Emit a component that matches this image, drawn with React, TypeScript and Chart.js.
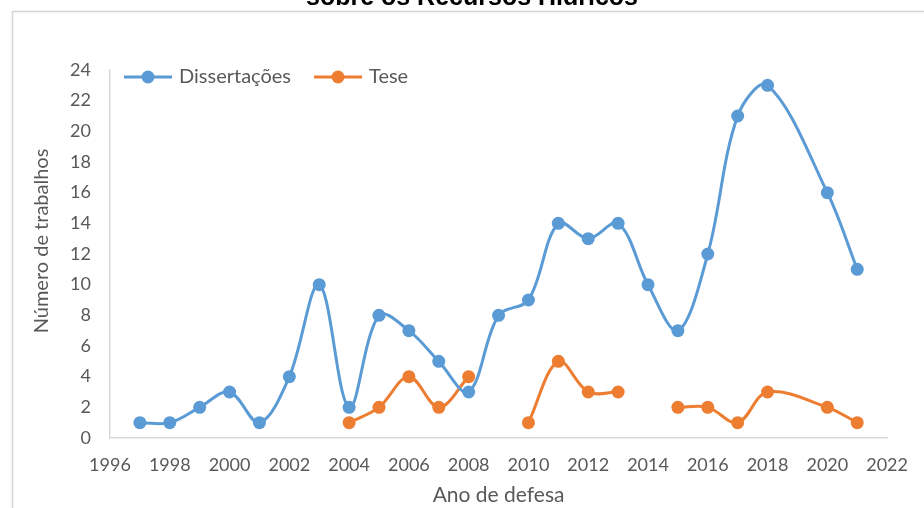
import { useEffect, useRef } from "react";
import { Chart, registerables } from "chart.js";

Chart.register(...registerables);

// Defence years and number of works per year
const dissYears = [1997, 1998, 1999, 2000, 2001, 2002, 2003, 2004, 2005, 2006, 2007, 2008, 2009, 2010, 2011, 2012, 2013, 2014, 2015, 2016, 2017, 2018, 2020, 2021];
const dissCounts = [1, 1, 2, 3, 1, 4, 10, 2, 8, 7, 5, 3, 8, 9, 14, 13, 14, 10, 7, 12, 21, 23, 16, 11];

// null marks a year without theses: the line is broken there
const teseYears = [2004, 2005, 2006, 2007, 2008, 2009, 2010, 2011, 2012, 2013, 2014, 2015, 2016, 2017, 2018, 2020, 2021];
const teseCounts: (number | null)[] = [1, 2, 4, 2, 4, null, 1, 5, 3, 3, null, 2, 2, 1, 3, 2, 1];

const seriesNames = ["Dissertações", "Tese"];
const seriesColors = ["#5b9bd5", "#ed7d31"];

const xMin = 1996;
const xMax = 2022;
const xStep = 2;
const yMin = 0;
const yMax = 24;
const yStep = 2;

const captionText = "sobre os Recursos Hídricos";
const yTitleText = "Número de trabalhos";
const xTitleText = "Ano de defesa";

const TEXT_GREY = "#595959";
const AXIS_GREY = "#d9d9d9";
const FONT = "Lato";

const toPoints = (xs: number[], ys: (number | null)[]) =>
  xs.map((x, i) => ({ x, y: ys[i] }));

// Frame, caption, rotated axis title and the line+marker legend
const decorations = {
  id: "decorations",
  beforeDraw(chart: any) {
    const ctx = chart.ctx as CanvasRenderingContext2D;
    ctx.save();
    ctx.fillStyle = "#ffffff";
    ctx.fillRect(0, 0, chart.width, chart.height);
    ctx.strokeStyle = "#d4d4d4";
    ctx.lineWidth = 1.5;
    ctx.beginPath();
    ctx.moveTo(12.5, chart.height + 2);
    ctx.lineTo(12.5, 11.5);
    ctx.lineTo(chart.width + 2, 11.5);
    ctx.stroke();
    ctx.restore();
  },
  afterDraw(chart: any) {
    const ctx = chart.ctx as CanvasRenderingContext2D;
    const area = chart.chartArea;

    // caption line above the frame
    ctx.save();
    ctx.font = `bold 25px "Liberation Sans", Arial, sans-serif`;
    ctx.fillStyle = "#000000";
    ctx.textAlign = "center";
    ctx.textBaseline = "alphabetic";
    ctx.fillText(captionText, 472, 5);
    ctx.restore();

    // vertical axis title
    ctx.save();
    ctx.font = `20px ${FONT}`;
    ctx.fillStyle = TEXT_GREY;
    ctx.textAlign = "center";
    ctx.textBaseline = "middle";
    ctx.translate(42, (area.top + area.bottom) / 2 - 13);
    ctx.rotate(-Math.PI / 2);
    ctx.fillText(yTitleText, 0, 0);
    ctx.restore();

    // legend inside the top-left corner of the plot
    ctx.save();
    ctx.font = `20px ${FONT}`;
    ctx.textBaseline = "middle";
    ctx.textAlign = "left";
    let x = area.left + 14;
    const cy = area.top + 7;
    const sample = 48;
    chart.data.datasets.forEach((ds: any) => {
      ctx.strokeStyle = ds.borderColor;
      ctx.lineWidth = 3;
      ctx.beginPath();
      ctx.moveTo(x, cy);
      ctx.lineTo(x + sample, cy);
      ctx.stroke();
      ctx.fillStyle = ds.borderColor;
      ctx.beginPath();
      ctx.arc(x + sample / 2, cy, 6.5, 0, Math.PI * 2);
      ctx.fill();
      ctx.fillStyle = TEXT_GREY;
      ctx.fillText(ds.label, x + sample + 7, cy);
      x += sample + 7 + ctx.measureText(ds.label).width + 23;
    });
    ctx.restore();
  },
};

export default function App() {
  const canvasRef = useRef<HTMLCanvasElement | null>(null);

  useEffect(() => {
    const canvas = canvasRef.current;
    if (!canvas) return;

    const lineStyle = (color: string) => ({
      borderColor: color,
      backgroundColor: color,
      borderWidth: 3,
      pointRadius: 6.5,
      pointHoverRadius: 6.5,
      pointBorderWidth: 0,
      pointBackgroundColor: color,
      tension: 0.35,
      fill: false,
      spanGaps: false,
    });

    const chart = new Chart(canvas, {
      type: "line",
      data: {
        datasets: [
          { label: seriesNames[0], data: toPoints(dissYears, dissCounts), ...lineStyle(seriesColors[0]) },
          { label: seriesNames[1], data: toPoints(teseYears, teseCounts), ...lineStyle(seriesColors[1]) },
        ],
      },
      options: {
        responsive: false,
        animation: false,
        events: [],
        parsing: false as any,
        layout: { padding: { left: 20, top: 70, right: 36, bottom: 0 } },
        plugins: {
          legend: { display: false },
          title: { display: false },
          tooltip: { enabled: false },
        },
        scales: {
          x: {
            type: "linear",
            min: xMin,
            max: xMax,
            grid: { display: false, drawTicks: false },
            border: { display: true, color: AXIS_GREY, width: 1.5 },
            ticks: {
              stepSize: xStep,
              autoSkip: false,
              maxRotation: 0,
              padding: 16,
              color: TEXT_GREY,
              font: { family: FONT, size: 18 },
              callback: (v: any) => String(v),
            },
            title: {
              display: true,
              text: xTitleText,
              color: TEXT_GREY,
              font: { family: FONT, size: 21 },
              padding: { top: 0, bottom: 0 },
            },
            afterFit: (s: any) => {
              s.height = 70;
            },
          },
          y: {
            type: "linear",
            min: yMin,
            max: yMax,
            grid: { display: false, drawTicks: false },
            border: { display: true, color: AXIS_GREY, width: 1.5 },
            ticks: {
              stepSize: yStep,
              padding: 19,
              color: TEXT_GREY,
              font: { family: FONT, size: 18 },
              callback: (v: any) => String(v),
            },
            afterFit: (s: any) => {
              s.width = 90;
            },
          },
        },
      },
      plugins: [decorations],
    });

    return () => chart.destroy();
  }, []);

  return (
    <div style={{ position: "fixed", left: 0, top: 0, width: 924, height: 508, background: "#fff" }}>
      <canvas ref={canvasRef} width={924} height={508} style={{ display: "block" }} />
    </div>
  );
}
